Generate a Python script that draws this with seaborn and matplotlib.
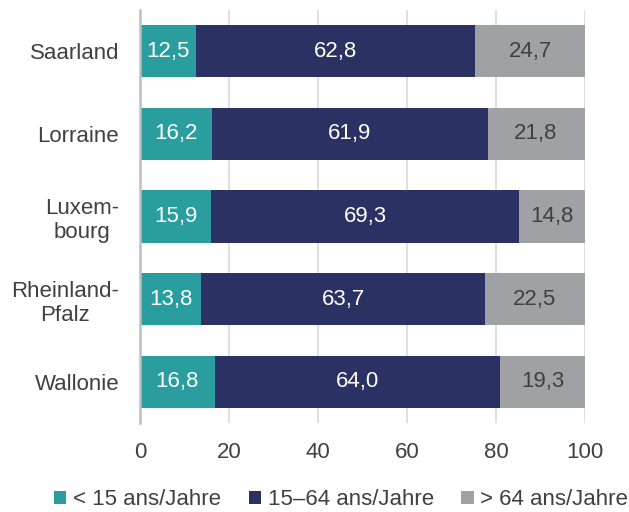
import matplotlib
matplotlib.use("Agg")
import matplotlib.pyplot as plt
import seaborn as sns
import pandas as pd
from matplotlib.patches import Patch

# Data
regions = ["Saarland", "Lorraine", "Luxem-\nbourg", "Rheinland-\nPfalz", "Wallonie"]
under_15 = [12.5, 16.2, 15.9, 13.8, 16.8]
age_15_64 = [62.8, 61.9, 69.3, 63.7, 64.0]
over_64 = [24.7, 21.8, 14.8, 22.5, 19.3]
series_labels = ["< 15 ans/Jahre", "15\u201364 ans/Jahre", "> 64 ans/Jahre"]

colors = ["#2a9d9e", "#2b3263", "#a0a1a5"]
text_dark = "#404040"

df = pd.DataFrame({"region": regions, "u15": under_15, "mid": age_15_64, "o64": over_64})
df["c1"] = df["u15"]
df["c2"] = df["u15"] + df["mid"]
df["c3"] = df["c2"] + df["o64"]

sns.set_theme(style="white")
plt.rcParams["font.family"] = ["Liberation Sans", "DejaVu Sans"]

fig = plt.figure(figsize=(6.29, 5.12), dpi=100)
ax = fig.add_axes([140 / 629, 1 - 423 / 512, 445 / 629, 413 / 512])

# stacked bars drawn as overlapping cumulative totals
for col, color in zip(["c3", "c2", "c1"], colors[::-1]):
    sns.barplot(data=df, x=col, y="region", color=color, width=0.63,
                saturation=1, ax=ax, orient="h", linewidth=0, zorder=3)

# segment labels
for i, row in df.iterrows():
    lefts = [0, row["c1"], row["c2"]]
    vals = [row["u15"], row["mid"], row["o64"]]
    tcolors = ["white", "white", text_dark]
    for left, v, tc in zip(lefts, vals, tcolors):
        ax.text(left + v / 2, i, f"{v:.1f}".replace(".", ","), ha="center",
                va="center", color=tc, fontsize=16, zorder=4)

ax.set_xlim(0, 100)
ax.set_ylim(4.5, -0.5)
ax.set_xticks([0, 20, 40, 60, 80, 100])
ax.set_xlabel("")
ax.set_ylabel("")
ax.grid(axis="x", color="#d9d9d9", linewidth=1.2, zorder=0)
ax.set_axisbelow(True)
for s in ["top", "right", "bottom"]:
    ax.spines[s].set_visible(False)
ax.spines["left"].set_color("#bfbfbf")
ax.spines["left"].set_linewidth(1.8)
ax.spines["left"].set_zorder(5)
ax.tick_params(axis="x", length=0, pad=14, labelsize=16, labelcolor=text_dark)
ax.tick_params(axis="y", length=0, pad=15, labelsize=16, labelcolor=text_dark)
for lab in ax.get_yticklabels():
    lab.set_multialignment("center")

handles = [Patch(facecolor=c, edgecolor="none") for c in colors]
fig.legend(handles, series_labels, loc="center left", bbox_to_anchor=(0.054, 0.024),
           ncol=3, frameon=False, fontsize=16, handlelength=0.55, handleheight=0.55,
           handletextpad=0.3, columnspacing=1.25, labelcolor=text_dark)

fig.savefig("out.png", dpi=100)
